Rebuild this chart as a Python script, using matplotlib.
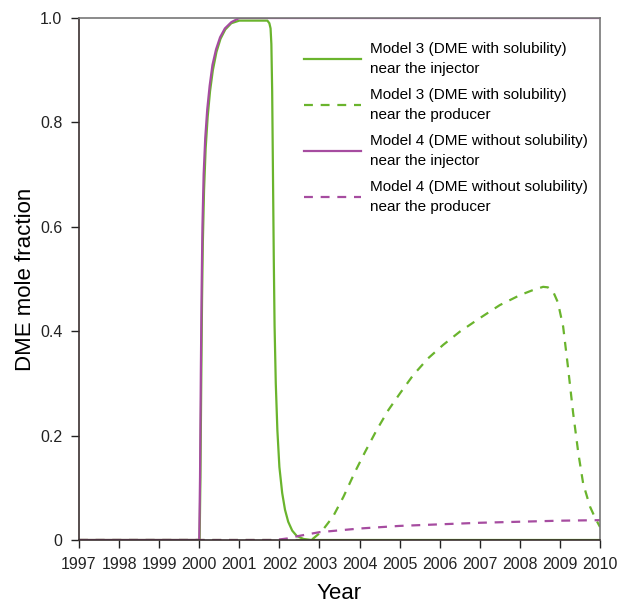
import matplotlib.pyplot as plt

plt.rcParams['font.family'] = ['Liberation Sans', 'DejaVu Sans']

green = '#6AB42D'
purple = '#A64CA0'

# Model 3, near the injector
m3_inj_x = [1997, 2000.01, 2000.03, 2000.05, 2000.07, 2000.09, 2000.12, 2000.16, 2000.21, 2000.27,
            2000.34, 2000.43, 2000.53, 2000.65, 2000.8, 2001.0, 2001.7, 2001.75, 2001.78, 2001.8,
            2001.82, 2001.84, 2001.86, 2001.88, 2001.91, 2001.95, 2002.0, 2002.07, 2002.14, 2002.22,
            2002.32, 2002.43, 2002.6, 2002.8, 2010]
m3_inj_y = [0, 0, 0.12, 0.3, 0.46, 0.57, 0.67, 0.75, 0.81, 0.86,
            0.9, 0.935, 0.96, 0.978, 0.99, 0.995, 0.995, 0.99, 0.98, 0.95,
            0.86, 0.7, 0.54, 0.41, 0.3, 0.21, 0.14, 0.09, 0.058, 0.035,
            0.018, 0.008, 0.002, 0, 0]

# Model 3, near the producer
m3_pro_x = [1997, 2002.8, 2003.05, 2003.34, 2003.6, 2003.89, 2004.14, 2004.43, 2004.72, 2005.01,
            2005.34, 2005.71, 2006.09, 2006.5, 2007.0, 2007.5, 2008.0, 2008.3, 2008.58, 2008.7,
            2008.83, 2008.95, 2009.08, 2009.2, 2009.33, 2009.46, 2009.58, 2009.75, 2009.88, 2010]
m3_pro_y = [0, 0, 0.016, 0.045, 0.083, 0.131, 0.169, 0.211, 0.249, 0.281,
            0.316, 0.348, 0.374, 0.399, 0.425, 0.45, 0.469, 0.478, 0.485, 0.484,
            0.476, 0.455, 0.409, 0.332, 0.243, 0.166, 0.108, 0.064, 0.042, 0.025]

# Model 4, near the injector
m4_inj_x = [1997, 2000.0, 2000.02, 2000.04, 2000.06, 2000.08, 2000.11, 2000.15, 2000.2, 2000.26,
            2000.33, 2000.42, 2000.52, 2000.64, 2000.8, 2001.0, 2010]
m4_inj_y = [0, 0, 0.12, 0.32, 0.48, 0.6, 0.7, 0.77, 0.825, 0.87,
            0.91, 0.94, 0.963, 0.98, 0.992, 1.0, 1.0]

# Model 4, near the producer
m4_pro_x = [1997, 2001.9, 2002.2, 2002.5, 2003, 2004, 2005, 2006, 2007, 2008, 2009, 2010]
m4_pro_y = [0, 0, 0.003, 0.008, 0.015, 0.022, 0.027, 0.030, 0.033, 0.035, 0.037, 0.038]

years = list(range(1997, 2011))
yticks = [0, 0.2, 0.4, 0.6, 0.8, 1.0]
ytick_labels = ['0', '0.2', '0.4', '0.6', '0.8', '1.0']

fig = plt.figure(figsize=(6.2, 6.03), dpi=100)
ax = fig.add_axes([79 / 620, 63 / 603, 521 / 620, 522 / 603])

ax.plot(m3_inj_x, m3_inj_y, color=green, lw=1.6,
        label='Model 3 (DME with solubility)\nnear the injector')
ax.plot(m3_pro_x, m3_pro_y, color=green, lw=1.6, ls=(0, (4, 3.5)),
        label='Model 3 (DME with solubility)\nnear the producer')
ax.plot(m4_inj_x, m4_inj_y, color=purple, lw=1.6,
        label='Model 4 (DME without solubility)\nnear the injector')
ax.plot(m4_pro_x, m4_pro_y, color=purple, lw=1.6, ls=(0, (4, 3.5)),
        label='Model 4 (DME without solubility)\nnear the producer')

ax.set_xlim(1997, 2010)
ax.set_ylim(0, 1.0)
ax.set_xticks(years)
ax.set_xticklabels([str(y) for y in years], fontsize=11.5)
ax.set_yticks(yticks)
ax.set_yticklabels(ytick_labels, fontsize=11.5)
ax.tick_params(direction='out', length=6, width=1, colors='#222222', pad=6)
for s in ['left', 'bottom']:
    ax.spines[s].set_color('#3a2f2f')
for s in ['top', 'right']:
    ax.spines[s].set_color('#777777')
for s in ax.spines.values():
    s.set_linewidth(1.2)

ax.set_xlabel('Year', fontsize=16, labelpad=8)
ax.set_ylabel('DME mole fraction', fontsize=16, labelpad=3)

leg = ax.legend(loc='upper right', bbox_to_anchor=(1.003, 0.98), frameon=False,
                fontsize=11, handlelength=3.7, handletextpad=0.6, labelspacing=0.82)
for t in leg.get_texts():
    t.set_linespacing(1.5)

fig.savefig('out.png', dpi=100)
